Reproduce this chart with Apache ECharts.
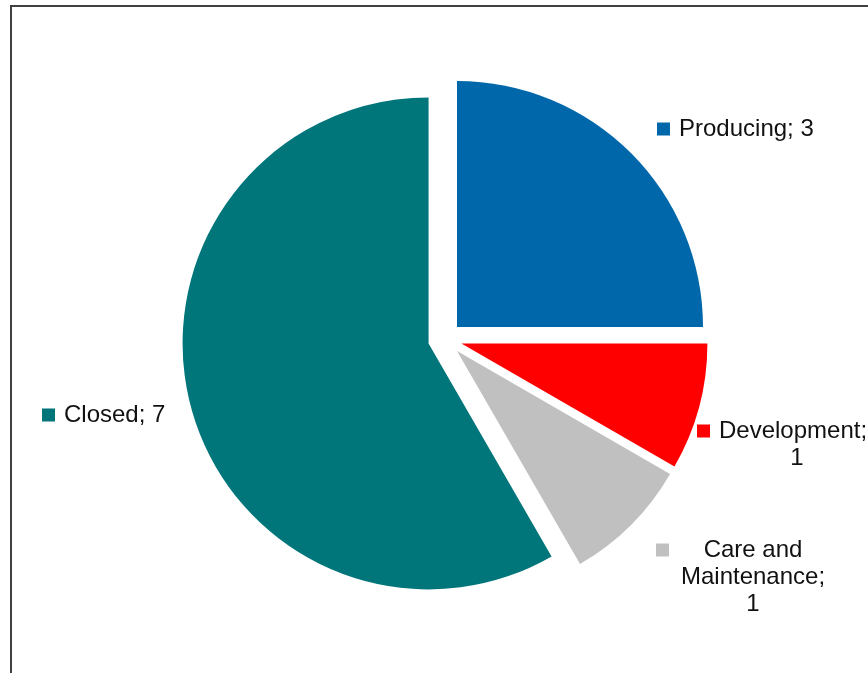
<!DOCTYPE html>
<html><head><meta charset="utf-8">
<script src="https://cdn.jsdelivr.net/npm/echarts@6/dist/echarts.min.js"></script>
<style>html,body{margin:0;padding:0;background:#fff}#c{width:868px;height:673px}</style>
</head><body><div id="c"></div>
<script>
const categories = ['Producing', 'Development', 'Care and Maintenance', 'Closed'];
const values = [3, 1, 1, 7];
const sliceColors = ['#0067AB', '#FF0000', '#C0C0C0', '#00757A'];
const labelAnchors = [[657, 129], [697, 444.5], [656, 577], [42, 415]];

const FONT = "24px 'Liberation Sans', Arial, sans-serif";
const TXT = '#111111';

function labelText(i) {
  const name = categories[i], v = values[i];
  const sq = '{s' + i + '|}{g|}';
  if (i === 1) {
    return sq + '{t|' + name + ';}\n{d|' + v + '}';
  }
  if (i === 2) {
    const w = name.split(' ');
    return sq + '{c|' + w.slice(0, 2).join(' ') + '}\n{sp|}{c|' + w.slice(2).join(' ') + ';}\n{sp|}{c|' + v + '}';
  }
  return sq + '{t|' + name + '; ' + v + '}';
}

const rich = {
  g: { width: 9, height: 13, lineHeight: 27, align: 'left' },
  sp: { width: 22, height: 13, lineHeight: 27, align: 'left' },
  t: { font: FONT, fill: TXT, lineHeight: 27, align: 'left' },
  c: { font: FONT, fill: TXT, lineHeight: 27, width: 150, align: 'center' },
  d: { font: FONT, fill: TXT, lineHeight: 27, width: 200, align: 'center' }
};
sliceColors.forEach(function (col, i) {
  rich['s' + i] = { width: 13, height: 13, lineHeight: 27, backgroundColor: col, align: 'left' };
});

const labelGraphics = categories.map(function (n, i) {
  return {
    type: 'text', silent: true, z: 50,
    x: labelAnchors[i][0], y: labelAnchors[i][1],
    style: {
      text: labelText(i), rich: rich, font: FONT, fill: TXT,
      align: 'left', verticalAlign: 'middle'
    }
  };
});

const chart = echarts.init(document.getElementById('c'), null, { renderer: 'canvas' });
chart.setOption({
  animation: false,
  backgroundColor: '#ffffff',
  graphic: [{
    type: 'rect', silent: true, z: 100,
    shape: { x: 11, y: 6, width: 900, height: 700 },
    style: { fill: 'none', stroke: '#404040', lineWidth: 2 }
  }].concat(labelGraphics),
  series: [{
    type: 'pie',
    radius: 246,
    center: [445, 339],
    startAngle: 90,
    clockwise: true,
    selectedMode: 'multiple',
    selectedOffset: 17,
    avoidLabelOverlap: false,
    emphasis: { disabled: true },
    itemStyle: { borderWidth: 0 },
    label: { show: false },
    labelLine: { show: false },
    data: categories.map(function (n, i) {
      return {
        name: n, value: values[i], selected: true,
        itemStyle: { color: sliceColors[i] },
        select: { itemStyle: { color: sliceColors[i], borderWidth: 0 } }
      };
    })
  }]
});
</script>
</body></html>
